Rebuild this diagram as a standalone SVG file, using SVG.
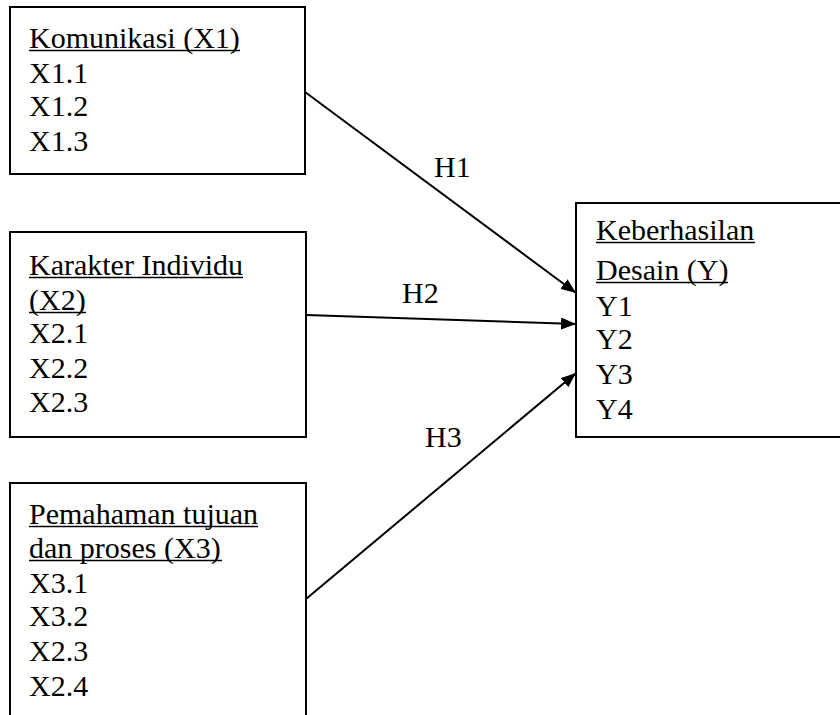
<svg xmlns="http://www.w3.org/2000/svg" width="840" height="715" viewBox="0 0 840 715">
<style>
.box{fill:#fff;stroke:#000;stroke-width:2}
.t{font-family:"Liberation Serif","Times New Roman",serif;font-size:30px;fill:#000}
.ul{stroke:#000;stroke-width:1.5}
.edge{stroke:#000;stroke-width:2;fill:none}
</style>
<defs>
<marker id="ah" markerUnits="userSpaceOnUse" markerWidth="16" markerHeight="12" refX="15" refY="6" orient="auto">
<path d="M0,0 L15,6 L0,12 Z" fill="#000"/>
</marker>
</defs>
<rect width="840" height="715" fill="#fff"/>
<g id="connectors">
<line class="edge" x1="305" y1="92" x2="576" y2="293" marker-end="url(#ah)"/>
<line class="edge" x1="306" y1="315" x2="576" y2="324" marker-end="url(#ah)"/>
<line class="edge" x1="306" y1="599" x2="576" y2="373" marker-end="url(#ah)"/>
<text class="t" x="434" y="177">H1</text>
<text class="t" x="402" y="303">H2</text>
<text class="t" x="425" y="447">H3</text>
</g>
<g id="x1">
<rect class="box" x="10" y="7" width="295" height="167"/>
<text class="t" x="29" y="48">Komunikasi (X1)</text>
<line class="ul" x1="29" y1="50.5" x2="240" y2="50.5"/>
<text class="t" x="29" y="83">X1.1</text>
<text class="t" x="29" y="116">X1.2</text>
<text class="t" x="29" y="151">X1.3</text>
</g>
<g id="x2">
<rect class="box" x="10" y="232" width="296" height="205"/>
<text class="t" x="29" y="275">Karakter Individu</text>
<line class="ul" x1="29" y1="277.5" x2="243" y2="277.5"/>
<text class="t" x="29" y="310">(X2)</text>
<line class="ul" x1="29" y1="312.5" x2="86" y2="312.5"/>
<text class="t" x="29" y="343">X2.1</text>
<text class="t" x="29" y="378">X2.2</text>
<text class="t" x="29" y="412">X2.3</text>
</g>
<g id="x3">
<rect class="box" x="10" y="483" width="296" height="250"/>
<text class="t" x="29" y="524">Pemahaman tujuan</text>
<line class="ul" x1="29" y1="526.5" x2="258" y2="526.5"/>
<text class="t" x="29" y="558">dan proses (X3)</text>
<line class="ul" x1="29" y1="560.5" x2="222" y2="560.5"/>
<text class="t" x="29" y="593">X3.1</text>
<text class="t" x="29" y="626">X3.2</text>
<text class="t" x="29" y="661">X2.3</text>
<text class="t" x="29" y="696">X2.4</text>
</g>
<g id="y">
<rect class="box" x="576" y="203" width="280" height="234"/>
<text class="t" x="596" y="240">Keberhasilan</text>
<line class="ul" x1="596" y1="242.5" x2="755" y2="242.5"/>
<text class="t" x="596" y="280">Desain (Y)</text>
<line class="ul" x1="596" y1="282.5" x2="728" y2="282.5"/>
<text class="t" x="596" y="316">Y1</text>
<text class="t" x="596" y="349">Y2</text>
<text class="t" x="596" y="384">Y3</text>
<text class="t" x="596" y="419">Y4</text>
</g>
</svg>
